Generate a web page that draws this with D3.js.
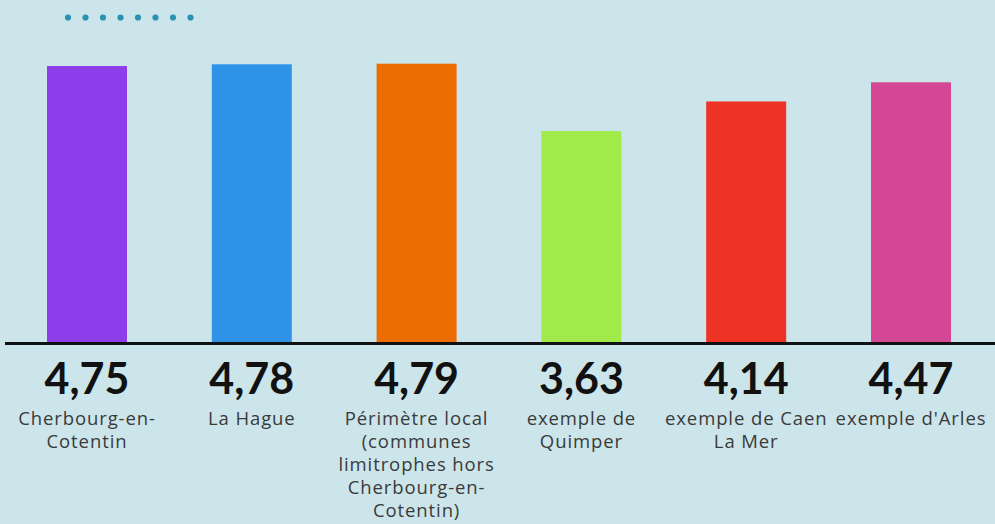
<!DOCTYPE html>
<html><head><meta charset="utf-8">
<script src="https://cdn.jsdelivr.net/npm/d3@7"></script>
<style>
html,body{margin:0;padding:0;background:#cce5ea;}
svg{display:block;}
</style></head>
<body>
<svg id="chart" width="995" height="524"></svg>
<script>
const categories = ["Cherbourg-en-Cotentin","La Hague","Périmètre local (communes limitrophes hors Cherbourg-en-Cotentin)","exemple de Quimper","exemple de Caen La Mer","exemple d'Arles"];
const labelLines = [["Cherbourg-en-","Cotentin"],["La Hague"],["Périmètre local","(communes","limitrophes hors","Cherbourg-en-","Cotentin)"],["exemple de","Quimper"],["exemple de Caen","La Mer"],["exemple d'Arles"]];
const values = [4.75, 4.78, 4.79, 3.63, 4.14, 4.47];
const valueLabels = ["4,75","4,78","4,79","3,63","4,14","4,47"];
const colors = ["#8e3deb","#2f93e8","#ec6d00","#a0eb4a","#ee3224","#d44794"];

const svg = d3.select("#chart");
const W = 995, H = 524;
svg.append("rect").attr("width",W).attr("height",H).attr("fill","#cce5ea");

const x = d3.scalePoint().domain(categories).range([4.6, 993.4]).padding(0.5);
const y = d3.scaleLinear().domain([0,5]).range([342, 51.5]);
const barW = 80;

// decorative dotted line under the (cut-off) title
const dots = d3.range(8);
svg.append("g").selectAll("circle").data(dots).join("circle")
  .attr("cx", d => 68 + d*17.5).attr("cy", 17.5).attr("r", 3.1).attr("fill","#2a92b0");

svg.append("g").selectAll("rect").data(values).join("rect")
  .attr("x",(d,i)=>x(categories[i]) - barW/2)
  .attr("y",d=>y(d))
  .attr("width",barW)
  .attr("height",d=>y(0)-y(d))
  .attr("fill",(d,i)=>colors[i]);

svg.append("line").attr("x1",5).attr("x2",995).attr("y1",343.5).attr("y2",343.5)
  .attr("stroke","#111").attr("stroke-width",3);

svg.append("g").selectAll("text").data(valueLabels).join("text")
  .attr("x",(d,i)=>x(categories[i]))
  .attr("y",394)
  .attr("text-anchor","middle")
  .attr("font-family","Lato, 'Open Sans', sans-serif")
  .attr("font-weight",700)
  .attr("font-size",43)
  .attr("fill","#111")
  .text(d=>d);

const lg = svg.append("g");
labelLines.forEach((lines,i)=>{
  const t = lg.append("text")
    .attr("x",x(categories[i]))
    .attr("y",425)
    .attr("text-anchor","middle")
    .attr("font-family","'Open Sans', sans-serif")
    .attr("font-size",18.5)
    .attr("letter-spacing",0.9)
    .attr("fill","#3a3a3a");
  lines.forEach((l,j)=>{
    t.append("tspan").attr("x",x(categories[i])).attr("y",425 + j*23).text(l);
  });
});
</script>
</body></html>
